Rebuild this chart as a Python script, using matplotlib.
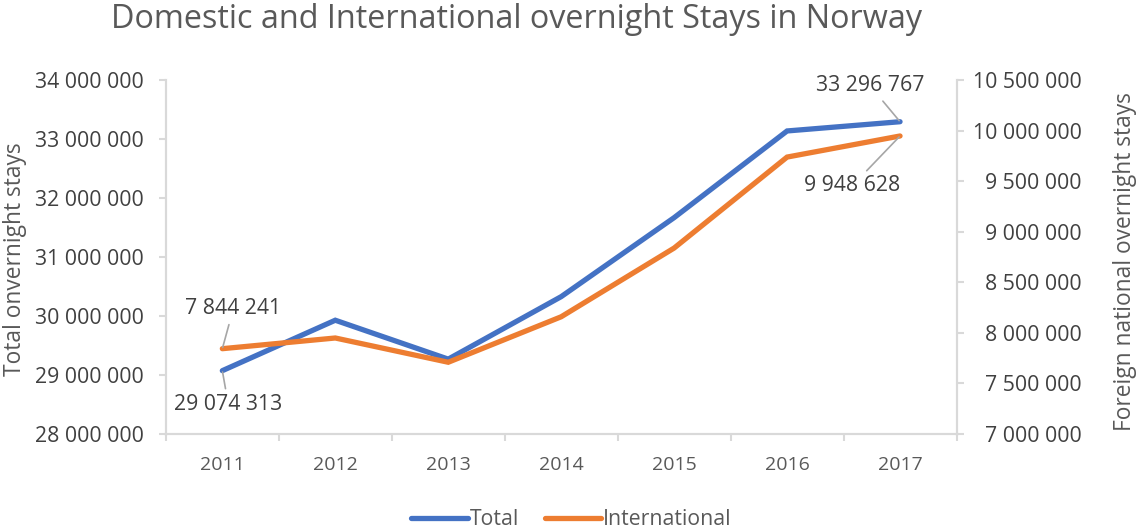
import matplotlib.pyplot as plt
import matplotlib.ticker as mticker
import numpy as np

plt.rcParams['font.family'] = ['Open Sans', 'DejaVu Sans']

years = ['2011', '2012', '2013', '2014', '2015', '2016', '2017']
total = [29074313, 29930000, 29270000, 30330000, 31670000, 33140000, 33296767]
international = [7844241, 7950000, 7710000, 8160000, 8840000, 9740000, 9948628]

blue = '#4472C4'
orange = '#ED7D31'
grey_txt = '#595959'
dark_txt = '#404040'
spine_c = '#D9D9D9'


def spaced(v, pos=None):
    return f'{int(round(v)):,}'.replace(',', ' ')


fig = plt.figure(figsize=(11.36, 5.28), dpi=100)
ax = fig.add_axes([0.146, 0.178, 0.696, 0.670])
ax2 = ax.twinx()

x = np.arange(len(years))
l1, = ax.plot(x, total, color=blue, lw=3.8, solid_joinstyle='miter', solid_capstyle='round', label='Total')
l2, = ax2.plot(x, international, color=orange, lw=3.8, solid_joinstyle='miter', solid_capstyle='round', label='International')

ax.set_xlim(-0.5, len(years) - 0.5)
ax.set_ylim(28000000, 34000000)
ax2.set_ylim(7000000, 10500000)
ax.yaxis.set_major_locator(mticker.MultipleLocator(1000000))
ax2.yaxis.set_major_locator(mticker.MultipleLocator(500000))
ax.yaxis.set_major_formatter(mticker.FuncFormatter(spaced))
ax2.yaxis.set_major_formatter(mticker.FuncFormatter(spaced))

ax.set_xticks(x)
ax.set_xticklabels(years)
ax.set_xticks(np.arange(-0.5, len(years)), minor=True)
ax.tick_params(axis='x', which='major', length=0, pad=16, labelsize=14, labelcolor=grey_txt)
ax.tick_params(axis='x', which='minor', length=5, color=spine_c, width=1.5)
ax.tick_params(axis='y', length=5, color=spine_c, width=1.5, pad=11, labelsize=15.3, labelcolor=dark_txt)
ax2.tick_params(axis='y', length=5, color=spine_c, width=1.5, pad=85, labelsize=15.3, labelcolor=dark_txt)
for lab in ax2.get_yticklabels():
    lab.set_horizontalalignment('right')

for a in (ax, ax2):
    a.spines['top'].set_visible(False)
    for s in ('left', 'right', 'bottom'):
        a.spines[s].set_color(spine_c)
        a.spines[s].set_linewidth(1.5)

fig.text(0.013, 0.51, 'Total onvernight stays', rotation=90, ha='center', va='center',
         fontsize=16.4, color=grey_txt)
fig.text(0.99, 0.505, 'Foreign national overnight stays', rotation=90, ha='center', va='center',
         fontsize=16.4, color=grey_txt)
fig.text(0.455, 0.963, 'Domestic and International overnight Stays in Norway', ha='center', va='center',
         fontsize=23.3, color=grey_txt)

arrow = dict(arrowstyle='-', color='#A6A6A6', lw=1.2, shrinkA=2, shrinkB=1)
ax.annotate(spaced(total[0]), xy=(0, total[0]), xytext=(6, -34), textcoords='offset pixels',
            ha='center', va='center', fontsize=15.3, color=dark_txt, arrowprops=arrow)
ax2.annotate(spaced(international[0]), xy=(0, international[0]), xytext=(11, 40), textcoords='offset pixels',
             ha='center', va='center', fontsize=15.3, color=dark_txt, arrowprops=arrow)
ax.annotate(spaced(total[-1]), xy=(6, total[-1]), xytext=(-30, 36), textcoords='offset pixels',
            ha='center', va='center', fontsize=15.3, color=dark_txt, arrowprops=arrow)
ax2.annotate(spaced(international[-1]), xy=(6, international[-1]), xytext=(-48, -50), textcoords='offset pixels',
             ha='center', va='center', fontsize=15.3, color=dark_txt, arrowprops=arrow)

leg = fig.legend([l1, l2], ['Total', 'International'], loc='lower center', bbox_to_anchor=(0.503, -0.04),
                 ncol=2, frameon=False, fontsize=15.3, handlelength=2.65, handletextpad=0.1, columnspacing=1.2)
for t in leg.get_texts():
    t.set_color(grey_txt)

fig.savefig('out.png', dpi=100)
